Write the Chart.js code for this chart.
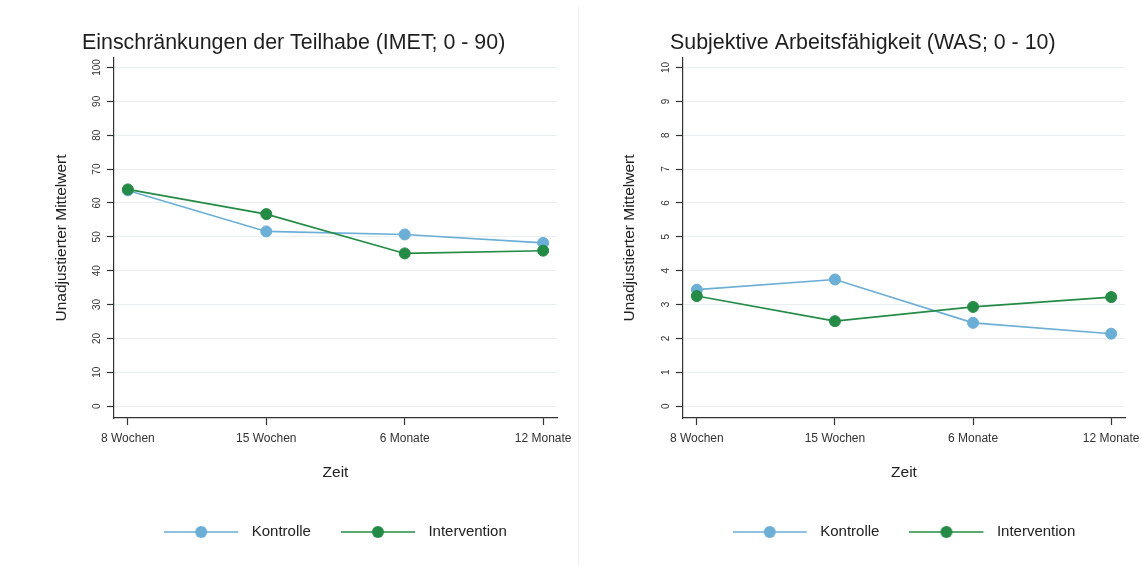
<!DOCTYPE html>
<html><head><meta charset="utf-8">
<script src="https://cdn.jsdelivr.net/npm/chart.js@4"></script>
<style>
html,body{margin:0;padding:0;background:#fff;}
#wrap{position:relative;width:1142px;height:566px;overflow:hidden;background:#fff;}
canvas{position:absolute;top:0;}
#c1{left:0}
#c2{left:578px}
#sep{position:absolute;left:578px;top:7px;width:1px;height:559px;background:#efefef;}
</style></head><body>
<div id="wrap"><div id="sep"></div><canvas id="c1" width="578" height="566"></canvas><canvas id="c2" width="564" height="566"></canvas></div>
<script>
// ---- data ----
const categories = ['8 Wochen', '15 Wochen', '6 Monate', '12 Monate'];
const seriesNames = ['Kontrolle', 'Intervention'];
const imetKontrolle = [63.7, 51.6, 50.7, 48.2];
const imetIntervention = [64.0, 56.7, 45.1, 45.9];
const wasKontrolle = [3.44, 3.74, 2.46, 2.14];
const wasIntervention = [3.25, 2.51, 2.93, 3.22];
const imetTicks = [0, 10, 20, 30, 40, 50, 60, 70, 80, 90, 100];
const wasTicks = [0, 1, 2, 3, 4, 5, 6, 7, 8, 9, 10];
const panelTitles = ['Einschränkungen der Teilhabe (IMET; 0 - 90)', 'Subjektive Arbeitsfähigkeit (WAS; 0 - 10)'];
const yAxisTitle = 'Unadjustierter Mittelwert';
const xAxisTitle = 'Zeit';

// ---- style ----
const FAMILY = '"Liberation Sans", Arial, Helvetica, sans-serif';
const BLUE = '#6baed6';
const GREEN = '#238b45';
const AXIS = '#333333';
const GRID = '#e7eff1';
const COLORS = [BLUE, GREEN];

function makeIcon(color) {
  const c = document.createElement('canvas');
  c.width = 80; c.height = 14;
  const g = c.getContext('2d');
  g.strokeStyle = color; g.lineWidth = 1.6;
  g.beginPath(); g.moveTo(0, 7); g.lineTo(74, 7); g.stroke();
  g.fillStyle = color;
  g.beginPath(); g.arc(37, 7, 6, 0, Math.PI * 2); g.fill();
  return c;
}
const legendIcons = COLORS.map(makeIcon);

const panelPlugin = {
  id: 'panel',
  afterDraw(chart, args, opts) {
    const ctx = chart.ctx;
    const ys = chart.scales.y;
    ctx.save();
    ctx.fillStyle = '#333';
    ctx.font = '10px ' + FAMILY;
    ctx.textAlign = 'center';
    ctx.textBaseline = 'middle';
    ys.ticks.forEach(t => {
      const y = ys.getPixelForValue(t.value);
      ctx.save();
      ctx.translate(ys.right - 17, y);
      ctx.rotate(-Math.PI / 2);
      ctx.fillText(String(t.value), 0, 0);
      ctx.restore();
    });
    ctx.fillStyle = '#1e1e1e';
    ctx.font = '21.4px ' + FAMILY;
    ctx.textAlign = 'left';
    ctx.textBaseline = 'alphabetic';
    ctx.fillText(opts.title, opts.titleX, 48.5);
    ctx.restore();
  }
};

function makeChart(id, kontrolle, intervention, ticks, yMin, yMax, title, titleX, padLeft, padRight, plotLeft) {
  const series = [kontrolle, intervention];
  return new Chart(document.getElementById(id), {
    type: 'line',
    data: {
      datasets: series.map((vals, k) => ({
        label: seriesNames[k],
        data: vals.map((v, i) => ({ x: i, y: v })),
        borderColor: COLORS[k],
        backgroundColor: COLORS[k],
        pointBackgroundColor: COLORS[k],
        pointBorderColor: COLORS[k],
        pointRadius: 5.5,
        pointBorderWidth: 1,
        borderWidth: 1.6,
        tension: 0,
        order: k === 0 ? 2 : 1
      }))
    },
    plugins: [panelPlugin],
    options: {
      responsive: false,
      animation: false,
      devicePixelRatio: 1,
      layout: { padding: { left: padLeft, right: padRight, top: 58, bottom: 16.5 } },
      scales: {
        x: {
          type: 'linear', min: -0.1, max: 3.1,
          afterBuildTicks: s => { s.ticks = categories.map((c, i) => ({ value: i })); },
          afterFit: s => { s.height = 76.5; s.paddingLeft = 0; s.paddingRight = 0; },
          ticks: { callback: v => categories[v], font: { size: 12, family: FAMILY }, color: '#333', padding: 6, autoSkip: false, maxRotation: 0, minRotation: 0 },
          grid: { drawOnChartArea: false, drawTicks: true, tickLength: 7, tickColor: AXIS, tickWidth: 1.2 },
          border: { color: AXIS, width: 1.2 },
          title: { display: true, text: xAxisTitle, font: { size: 15.5, family: FAMILY }, color: '#222', padding: { top: 0, bottom: 12.2 } }
        },
        y: {
          type: 'linear', min: yMin, max: yMax,
          afterBuildTicks: s => { s.ticks = ticks.map(v => ({ value: v })); },
          afterFit: s => { s.width = plotLeft - padLeft; s.paddingTop = 0; s.paddingBottom = 0; },
          ticks: { display: false },
          grid: { color: GRID, lineWidth: 1, drawTicks: true, tickLength: 7, tickColor: AXIS, tickWidth: 1.2 },
          border: { color: AXIS, width: 1.2 },
          title: { display: true, text: yAxisTitle, font: { size: 15.5, family: FAMILY }, color: '#222', padding: { top: 12.7, bottom: 0 } }
        }
      },
      plugins: {
        title: { display: false },
        tooltip: { enabled: false },
        panel: { title: title, titleX: titleX },
        legend: {
          position: 'bottom', fullSize: false, align: 'center',
          labels: {
            usePointStyle: true, pointStyleWidth: 80, padding: 30,
            font: { size: 15, family: FAMILY }, color: '#222',
            sort: (a, b) => a.datasetIndex - b.datasetIndex,
            generateLabels: chart => {
              const items = Chart.defaults.plugins.legend.labels.generateLabels(chart);
              items.forEach(it => { it.pointStyle = legendIcons[it.datasetIndex]; });
              return items;
            }
          }
        }
      }
    }
  });
}

makeChart('c1', imetKontrolle, imetIntervention, imetTicks, -3.5, 102.8, panelTitles[0], 82, 40, 21, 114);
makeChart('c2', wasKontrolle, wasIntervention, wasTicks, -0.35, 10.28, panelTitles[1], 92, 30, 17, 105);
</script>
</body></html>
